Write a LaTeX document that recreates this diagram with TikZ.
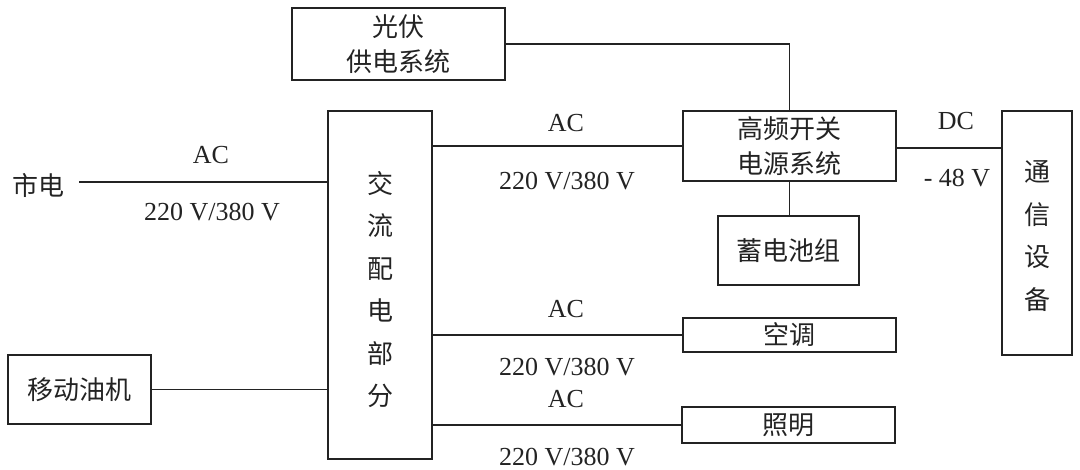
\documentclass[tikz,border=0pt]{standalone}
\usepackage{fontspec}
\setmainfont{Liberation Serif}
\newfontfamily\cjk{Noto Sans CJK SC}
\definecolor{ink}{RGB}{35,35,35}
\begin{document}
\begin{tikzpicture}[x=1pt,y=-1pt,
  every node/.style={text=ink},
  boxnode/.style={draw=ink,line width=1.6pt,rectangle,inner sep=0pt,align=center,
    font=\cjk\fontsize{26}{35}\selectfont},
  vtext/.style={align=center,inner sep=0pt,font=\cjk\fontsize{26}{42.5}\selectfont},
  lbl/.style={font=\fontsize{26}{30}\selectfont,inner sep=0pt},
  wire/.style={draw=ink,line width=1.6pt}]
\useasboundingbox (0,0) rectangle (1080,470);
% boxes
\node[boxnode,minimum width=213pt,minimum height=72pt] (pv) at (398.5,44) {光伏\\供电系统};
\node[boxnode,minimum width=104pt,minimum height=348pt] (ac) at (380,285) {};
\node[vtext] (actext) at ([yshift=-4.5pt]ac.center) {交\\流\\配\\电\\部\\分};
\node[boxnode,minimum width=213pt,minimum height=70pt] (hf) at (789.5,146) {高频开关\\电源系统};
\node[boxnode,minimum width=141pt,minimum height=69pt] (bat) at (788.5,250.5) {蓄电池组};
\node[boxnode,minimum width=70pt,minimum height=244pt] (comm) at (1037,233) {};
\node[vtext] (commtext) at ([yshift=-3pt]comm.center) {通\\信\\设\\备};
\node[boxnode,minimum width=213pt,minimum height=34pt] (kt) at (789.5,335) {空调};
\node[boxnode,minimum width=213pt,minimum height=36pt] (zm) at (788.5,425) {照明};
\node[boxnode,minimum width=143pt,minimum height=69pt] (yj) at (79.5,389.5) {移动油机};
\node[font=\cjk\fontsize{26}{30}\selectfont,inner sep=0pt,anchor=west] (sd) at (12,185) {市电};
\coordinate (sdw) at (79,182);
% connectors
\draw[wire] (sdw) -- (sdw -| ac.west);
\draw[wire] (pv.east) -- (pv.east -| hf.north) -- (hf.north);
\draw[wire] (ac.east |- hf.west) -- (hf.west);
\draw[wire] ([yshift=-2pt]hf.east) -- ([yshift=-2pt]hf.east -| comm.west);
\draw[wire] (hf.south) -- (hf.south |- bat.north);
\draw[wire] (ac.east |- kt.west) -- (kt.west);
\draw[wire] (ac.east |- zm.west) -- (zm.west);
\draw[wire] (yj.east) -- (yj.east -| ac.west);
% labels
\node[lbl] (l1) at (211,155) {AC};
\node[lbl] (l2) at (212,212) {220 V/380 V};
\node[lbl] (l3) at (566,123) {AC};
\node[lbl] (l4) at (567,181) {220 V/380 V};
\node[lbl] (l5) at (956,121) {DC};
\node[lbl] (l6) at (957,178) {- 48 V};
\node[lbl] (l7) at (566,309) {AC};
\node[lbl] (l8) at (567,367) {220 V/380 V};
\node[lbl] (l9) at (566,399) {AC};
\node[lbl] (l10) at (567,457) {220 V/380 V};
\end{tikzpicture}
\end{document}
